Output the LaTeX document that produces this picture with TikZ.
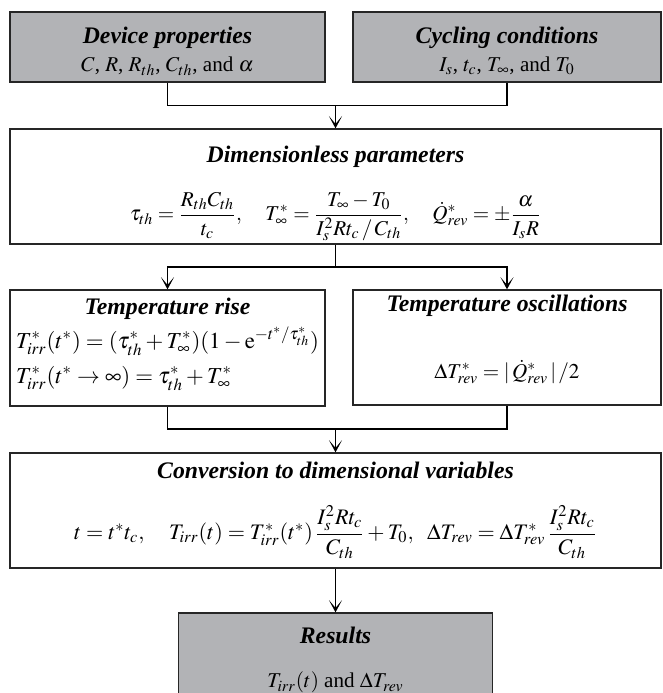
\documentclass[tikz,border=0pt]{standalone}
\usepackage{amsmath}
\usepackage{mathptmx}
\usepackage[no-math]{fontspec}
\setmainfont{Liberation Serif}
\usepackage{xcolor}
\usepackage{tikz}
\usetikzlibrary{arrows.meta}
\definecolor{boxgray}{RGB}{178,179,182}
\newcommand{\ttl}[1]{{\fontsize{13.5}{16}\selectfont\textbf{\textit{#1}}}}
\newcommand{\dn}[1]{\rule[-#1]{0pt}{#1}}
\newcommand{\up}[1]{\rule{0pt}{#1}}

\begin{document}
\begin{tikzpicture}[line width=.75pt, font=\fontsize{12}{14}\selectfont]
    \tikzstyle{gb}=[draw=black!85, fill=boxgray, inner sep=0pt, align=center]
    \tikzstyle{wb}=[draw=black!85, inner sep=0pt, align=center]
    \tikzstyle{ar}=[-{Stealth[length=7pt,width=7.5pt,inset=4.5pt]}]
    \useasboundingbox (0,0) rectangle (13.26,-13.86);

    % inputs
    \node[gb, minimum width=6.3cm, minimum height=1.4cm] (dev) at (3.35,-.94)
        {\up{14pt}\ttl{Device properties}\\[2pt] $C$, $R$, $R_{th}$, $C_{th}$, and $\alpha$};
    \node[gb, minimum width=6.16cm, minimum height=1.4cm] (cyc) at (10.14,-.94)
        {\up{14pt}\ttl{Cycling conditions}\\[2pt] $I_s$, $t_c$, $T_\infty$, and $T_0$};

    \node[wb, minimum width=13.02cm, minimum height=2.3cm] (dim) at (6.71,-3.73)
        {\up{17pt}\ttl{Dimensionless parameters}\\[13pt]
         $\tau_{th}=\dfrac{R_{th}C_{th}}{t_c},\quad
          T_\infty^*=\dfrac{T_\infty-T_0}{I_s^2Rt_c\,/\,C_{th}},\quad
          \dot{Q}_{rev}^*=\pm\dfrac{\alpha}{I_sR}$};

    \node[wb, minimum width=6.3cm, minimum height=2.32cm] (rise) at (3.35,-6.96)
        {\begin{tabular}{@{}l@{}}
         \multicolumn{1}{@{}c@{}}{\ttl{Temperature rise}}\\[3pt]
         \fontsize{13}{15}\selectfont
         $T_{irr}^*(t^*)=(\tau_{th}^*+T_\infty^*)(1-\mathrm{e}^{-t^*/\tau_{th}^*})$\\[6pt]
         \fontsize{13}{15}\selectfont
         $T_{irr}^*(t^*\to\infty)=\tau_{th}^*+T_\infty^*$\dn{9pt}
         \end{tabular}};
    \node[wb, minimum width=6.16cm, minimum height=2.3cm] (osc) at (10.14,-6.95)
        {\ttl{Temperature oscillations}\\[24pt]
         $\Delta T_{rev}^*=|\,\dot{Q}_{rev}^*\,|\,/2$\dn{12pt}};

    \node[wb, minimum width=13.02cm, minimum height=2.3cm] (conv) at (6.71,-10.21)
        {\ttl{Conversion to dimensional variables}\\[14pt]
         \fontsize{12.6}{15}\selectfont
         $t=t^*t_c,\quad
          T_{irr}(t)=T_{irr}^*(t^*)\,\dfrac{I_s^2Rt_c}{C_{th}}+T_0,\ \
          \Delta T_{rev}=\Delta T_{rev}^*\,\dfrac{I_s^2Rt_c}{C_{th}}$};

    \node[gb, minimum width=6.27cm, minimum height=1.8cm] (res) at (6.71,-13.16)
        {\up{12pt}\ttl{Results}\\[11pt] $T_{irr}(t)$ and $\Delta T_{rev}$};

    % connectors
    \coordinate (j1) at (6.71,-2.11);
    \coordinate (j2) at (6.71,-5.34);
    \coordinate (j3) at (6.71,-8.58);
    \draw (dev.south) |- (j1) -| (cyc.south);
    \draw[ar] (j1) -- (dim.north);
    \draw (dim.south) -- (j2);
    \draw[ar] (j2) -| (rise.north);
    \draw[ar] (j2) -| (osc.north);
    \draw (rise.south) |- (j3) -| (osc.south);
    \draw[ar] (j3) -- (conv.north);
    \draw[ar] (conv.south) -- (res.north);
\end{tikzpicture}
\end{document}
